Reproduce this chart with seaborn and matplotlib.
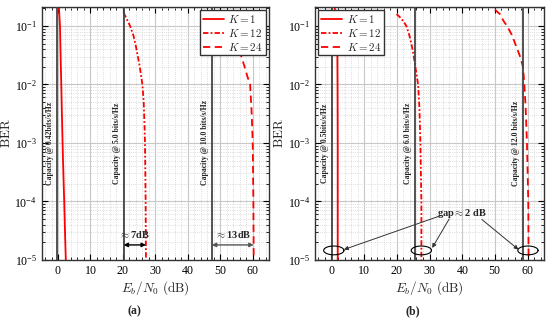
import numpy as np
import pandas as pd
import seaborn as sns
import matplotlib.pyplot as plt
from matplotlib.ticker import MultipleLocator, AutoMinorLocator

# ---- data ----
# panel (a)
a_k1_x = [0.3, 0.45, 0.6, 0.8, 1.0, 1.2, 1.4, 1.65, 1.9, 2.15, 2.4]
a_k1_y = [0.2, 0.14, 0.1, 0.03, 1e-2, 3e-3, 1e-3, 3e-4, 1e-4, 3e-5, 1e-5]
a_k12_x = [20.2, 21.2, 22.2, 23.2, 24.0, 24.6, 25.2, 25.6, 26.0, 26.4, 26.65,
           26.8, 27.0, 27.1]
a_k12_y = [0.17, 0.13, 0.1, 0.07, 0.045, 0.03, 0.02, 0.014, 1e-2, 5e-3, 2e-3,
           1e-3, 1e-4, 1e-5]
a_k24_x = [47.5, 49.5, 51.5, 53.5, 55.2, 56.5, 57.5, 58.3, 59.2, 59.7, 60.0,
           60.2, 60.3]
a_k24_y = [0.17, 0.13, 0.1, 0.07, 0.045, 0.03, 0.02, 0.014, 1e-2, 3e-3, 1e-3,
           1e-4, 1e-5]
a_cap_x = [-0.2, 20.2, 47.4]
a_cap_labels = ["Capacity @ 0.42bits/s/Hz", "Capacity @ 5.0 bits/s/Hz",
                "Capacity @ 10.0 bits/s/Hz"]

# panel (b)
b_k1_x = [1.0, 1.3, 1.55, 1.7, 1.8, 1.85, 1.9, 1.9]
b_k1_y = [0.2, 0.15, 0.12, 0.1, 0.03, 1e-2, 1e-3, 1e-5]
b_k12_x = [19.9, 21.0, 22.0, 22.9, 23.8, 24.6, 25.1, 25.5, 26.0, 26.5, 26.9,
           27.2, 27.5, 27.5]
b_k12_y = [0.16, 0.14, 0.12, 0.1, 0.07, 0.045, 0.032, 0.023, 0.015, 1e-2,
           4e-3, 1e-3, 1e-4, 1e-5]
b_k24_x = [50.0, 51.5, 52.7, 53.7, 55.2, 56.5, 57.7, 58.6, 59.0, 59.4, 59.8,
           60.2, 60.3]
b_k24_y = [0.19, 0.16, 0.12, 0.1, 0.07, 0.045, 0.03, 0.02, 1e-2, 4e-3, 1e-3,
           1e-4, 1e-5]
b_cap_x = [0.2, 25.5, 58.5]
b_cap_labels = ["Capacity @ 0.5bits/s/Hz", "Capacity @ 6.0 bits/s/Hz",
                "Capacity @ 12.0 bits/s/Hz"]
b_gap_x = [0.7, 27.5, 60.1]   # ellipse centres
b_gap_y = 1.45e-5

sns.set_style("ticks")
plt.rcParams["font.family"] = ["Liberation Serif", "DejaVu Serif"]
plt.rcParams["mathtext.fontset"] = "cm"
plt.rcParams["axes.formatter.use_mathtext"] = True

fig = plt.figure(figsize=(5.5, 3.24), dpi=100)
ax_a = fig.add_axes([0.076, 0.198, 0.413, 0.780])
ax_b = fig.add_axes([0.573, 0.198, 0.416, 0.780])


def setup(ax):
    ax.set_yscale("log")
    ax.set_xlim(-5, 65)
    ax.set_ylim(1e-5, 0.21)
    ax.xaxis.set_major_locator(MultipleLocator(10))
    ax.xaxis.set_minor_locator(AutoMinorLocator(5))
    ax.grid(which="major", color="#c8c8c8", lw=0.8)
    ax.grid(which="minor", color="#d0d0d0", ls=":", lw=0.6)
    ax.tick_params(which="both", direction="in", top=True, right=True,
                   labelsize=8.5, colors="black")
    ax.tick_params(which="major", length=4)
    ax.tick_params(which="minor", length=2)
    for s in ax.spines.values():
        s.set_color("#333333")
        s.set_linewidth(1.0)
    ax.set_xlabel(r"$E_b/N_0\ \mathrm{(dB)}$", fontsize=9.5, labelpad=2)
    ax.set_ylabel(r"$\mathrm{BER}$", fontsize=9.5, labelpad=1)


def curves(ax, k1x, k1y, k12x, k12y, k24x, k24y):
    sns.lineplot(x=k1x, y=k1y, ax=ax, color="red", lw=1.3, sort=False,
                 estimator=None, label=r"$K=1$")
    sns.lineplot(x=k12x, y=k12y, ax=ax, color="red", lw=1.3, sort=False,
                 estimator=None, label=r"$K=12$", linestyle=(0, (3, 1.2, 1, 1.2)))
    sns.lineplot(x=k24x, y=k24y, ax=ax, color="red", lw=1.3, sort=False,
                 estimator=None, label=r"$K=24$", linestyle=(0, (4, 2.5)))


def capacity(ax, xs, labels):
    for x, lab in zip(xs, labels):
        ax.axvline(x, color="#444444", lw=1.3, zorder=3)
        ax.text(x - 0.9, 1e-3, lab, rotation=90, ha="right", va="center",
                fontsize=5.6, fontweight="bold", zorder=4)


for ax in (ax_a, ax_b):
    setup(ax)

curves(ax_a, a_k1_x, a_k1_y, a_k12_x, a_k12_y, a_k24_x, a_k24_y)
capacity(ax_a, a_cap_x, a_cap_labels)
curves(ax_b, b_k1_x, b_k1_y, b_k12_x, b_k12_y, b_k24_x, b_k24_y)
capacity(ax_b, b_cap_x, b_cap_labels)

for ax, loc in ((ax_a, "upper right"), (ax_b, "upper left")):
    leg = ax.legend(loc=loc, fontsize=8, frameon=True, fancybox=False,
                    framealpha=1, edgecolor="#333333", handlelength=1.9,
                    borderpad=0.25, labelspacing=0.15, handletextpad=0.4,
                    borderaxespad=0.3)
    leg.get_frame().set_linewidth(1.0)

# gap arrows in (a)
ax_a.annotate("", xy=(a_k12_x[-1], 1.8e-5), xytext=(a_cap_x[1], 1.8e-5),
              arrowprops=dict(arrowstyle="<|-|>", color="black", lw=1.0,
                              mutation_scale=6, shrinkA=0, shrinkB=0))
ax_a.text((a_k12_x[-1] + a_cap_x[1]) / 2, 2.2e-5, r"$\approx$7dB", ha="center",
          va="bottom", fontsize=7.5, fontweight="bold")
ax_a.annotate("", xy=(a_k24_x[-1], 1.8e-5), xytext=(a_cap_x[2], 1.8e-5),
              arrowprops=dict(arrowstyle="<|-|>", color="#555555", lw=1.0,
                              mutation_scale=6, shrinkA=0, shrinkB=0))
ax_a.text((a_k24_x[-1] + a_cap_x[2]) / 2, 2.2e-5, r"$\approx$13dB", ha="center",
          va="bottom", fontsize=7.5, fontweight="bold")

# ellipses and gap annotation in (b)
t = np.linspace(0, 2 * np.pi, 100)
for cx in b_gap_x:
    ax_b.plot(cx + 3.1 * np.cos(t), b_gap_y * 10 ** (0.075 * np.sin(t)),
              color="black", lw=0.8, zorder=5)
arrow_starts = [(33, 5.6e-5), (36, 5.0e-5), (46, 4.9e-5)]
arrow_ends = [(3.8, 1.5e-5), (30.8, 1.6e-5), (57.2, 1.5e-5)]
for s, e in zip(arrow_starts, arrow_ends):
    ax_b.annotate("", xy=e, xytext=s,
                  arrowprops=dict(arrowstyle="-|>", color="#333333", lw=0.7,
                                  mutation_scale=6, shrinkA=0, shrinkB=0))
ax_b.text(40, 6.2e-5, r"gap$\approx$2 dB", ha="center", va="center",
          fontsize=7.5, fontweight="bold")

fig.text(0.245, 0.03, "(a)", ha="center", fontsize=8.5, fontweight="bold")
fig.text(0.751, 0.03, "(b)", ha="center", fontsize=8.5, fontweight="bold")

fig.savefig("out.png", dpi=100)
